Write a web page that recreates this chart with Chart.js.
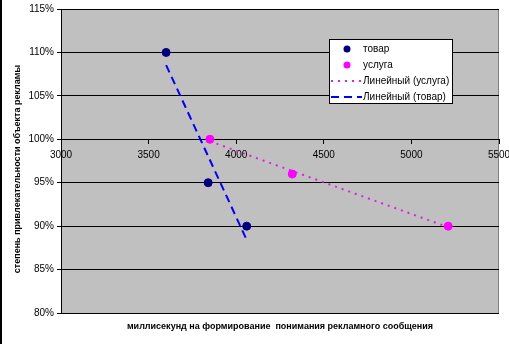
<!DOCTYPE html>
<html>
<head>
<meta charset="utf-8">
<script src="https://cdn.jsdelivr.net/npm/chart.js@4/dist/chart.umd.min.js"></script>
<style>
  body { margin: 0; background: #fff; }
  #wrap { width: 509px; height: 344px; }
</style>
</head>
<body>
<div id="wrap"><canvas id="chart" width="509" height="344"></canvas></div>
<script>
// data
const goodsX = [3600, 3840, 4060];
const goodsY = [1.10, 0.95, 0.90];
const serviceX = [3850, 4320, 5210];
const serviceY = [1.00, 0.96, 0.90];
const xTicks = [3000, 3500, 4000, 4500, 5000, 5500];
const yTicks = [0.80, 0.85, 0.90, 0.95, 1.00, 1.05, 1.10, 1.15];
const seriesNames = ['товар', 'услуга', 'Линейный (услуга)', 'Линейный (товар)'];
const xTitle = 'миллисекунд на формирование  понимания рекламного сообщения';
const yTitle = 'степень привлекательности объекта рекламы';

const FONT = "'Liberation Sans', Arial, sans-serif";

const toPoints = (xs, ys) => xs.map((x, i) => ({ x: x, y: ys[i] }));

// least squares line, like an Excel linear trendline, drawn over the data range
function trend(xs, ys) {
    const n = xs.length;
    const mx = xs.reduce((a, b) => a + b, 0) / n;
    const my = ys.reduce((a, b) => a + b, 0) / n;
    let sxy = 0, sxx = 0;
    xs.forEach((x, i) => { sxy += (x - mx) * (ys[i] - my); sxx += (x - mx) * (x - mx); });
    const k = sxy / sxx;
    const x0 = Math.min(...xs), x1 = Math.max(...xs);
    return [{ x: x0, y: my + k * (x0 - mx) }, { x: x1, y: my + k * (x1 - mx) }];
}

const plotBg = {
    id: 'plotBg',
    beforeDraw(chart) {
        const { ctx, chartArea: a } = chart;
        ctx.save();
        ctx.fillStyle = '#C0C0C0';
        ctx.fillRect(a.left, a.top, a.right - a.left, a.bottom - a.top);
        ctx.strokeStyle = '#808080';
        ctx.lineWidth = 1;
        ctx.strokeRect(a.left + 0.5, a.top + 0.5, a.right - a.left - 1, a.bottom - a.top);
        // left edge of the picture frame
        ctx.fillStyle = '#000';
        ctx.fillRect(0, 0, 2, chart.height);
        ctx.restore();
    }
};

// axis titles, placed like the Excel original
const axisTitles = {
    id: 'axisTitles',
    afterDraw(chart) {
        const { ctx, chartArea: a } = chart;
        ctx.save();
        ctx.fillStyle = '#000';
        ctx.font = 'bold 9px ' + FONT;
        ctx.textAlign = 'center';
        ctx.textBaseline = 'middle';
        ctx.fillText(xTitle, (a.left + a.right) / 2, 327);
        ctx.translate(18, 169);
        ctx.rotate(-Math.PI / 2);
        ctx.fillText(yTitle, 0, 0);
        ctx.restore();
    }
};

const boxLegend = {
    id: 'boxLegend',
    afterDraw(chart) {
        const ctx = chart.ctx;
        const x = 329, y = 39, w = 123, h = 64;
        ctx.save();
        ctx.fillStyle = '#fff';
        ctx.fillRect(x, y, w, h);
        ctx.strokeStyle = '#000';
        ctx.lineWidth = 1;
        ctx.strokeRect(x + 0.5, y + 0.5, w, h);
        ctx.font = '10px ' + FONT;
        ctx.textBaseline = 'middle';
        chart.data.datasets.forEach((ds, row) => {
            const cy = y + 10 + row * 16;
            if (ds.pointRadius > 0) {
                ctx.beginPath();
                ctx.fillStyle = ds.backgroundColor;
                ctx.arc(347, cy, 3.5, 0, Math.PI * 2);
                ctx.fill();
            } else {
                ctx.beginPath();
                ctx.strokeStyle = ds.borderColor;
                ctx.lineWidth = 2;
                ctx.setLineDash(ds.borderDash);
                ctx.moveTo(331, cy);
                ctx.lineTo(362, cy);
                ctx.stroke();
                ctx.setLineDash([]);
            }
            ctx.fillStyle = '#000';
            ctx.fillText(ds.label, 363, cy);
        });
        ctx.restore();
    }
};

new Chart(document.getElementById('chart'), {
    type: 'scatter',
    data: {
        datasets: [
            {
                label: seriesNames[0],
                data: toPoints(goodsX, goodsY),
                backgroundColor: '#000080',
                borderColor: '#000080',
                pointRadius: 4,
                pointHoverRadius: 4
            },
            {
                label: seriesNames[1],
                data: toPoints(serviceX, serviceY),
                backgroundColor: '#FF00FF',
                borderColor: '#FF00FF',
                pointRadius: 4,
                pointHoverRadius: 4
            },
            {
                label: seriesNames[2],
                data: trend(serviceX, serviceY),
                showLine: true,
                borderColor: '#E020E0',
                borderWidth: 2,
                borderDash: [2, 5],
                pointRadius: 0
            },
            {
                label: seriesNames[3],
                data: trend(goodsX, goodsY),
                showLine: true,
                borderColor: '#0000FF',
                borderWidth: 2,
                borderDash: [8, 5],
                pointRadius: 0
            }
        ]
    },
    options: {
        responsive: false,
        animation: false,
        layout: { padding: { top: 9, right: 0, left: 0, bottom: 31 } },
        plugins: {
            legend: { display: false },
            tooltip: { enabled: false }
        },
        scales: {
            x: {
                type: 'linear',
                position: { y: 1.0 },
                min: xTicks[0],
                max: xTicks[xTicks.length - 1],
                afterBuildTicks: s => { s.ticks = xTicks.map(v => ({ value: v })); },
                afterFit: s => { s.paddingLeft = 0; s.paddingRight = 10; },
                grid: { drawOnChartArea: false, color: '#000', tickLength: 4 },
                border: { color: '#000' },
                ticks: {
                    color: '#000',
                    padding: 6,
                    maxRotation: 0,
                    font: { family: FONT, size: 10 },
                    callback: v => String(v)
                }
            },
            y: {
                min: yTicks[0],
                max: yTicks[yTicks.length - 1],
                afterBuildTicks: s => { s.ticks = yTicks.map(v => ({ value: v })); },
                afterFit: s => { s.width = 61; },
                grid: { color: '#000', tickLength: 4 },
                border: { color: '#000' },
                ticks: {
                    color: '#000',
                    padding: 3,
                    font: { family: FONT, size: 10 },
                    callback: v => Math.round(v * 100) + '%'
                }
            }
        }
    },
    plugins: [plotBg, axisTitles, boxLegend]
});
</script>
</body>
</html>
